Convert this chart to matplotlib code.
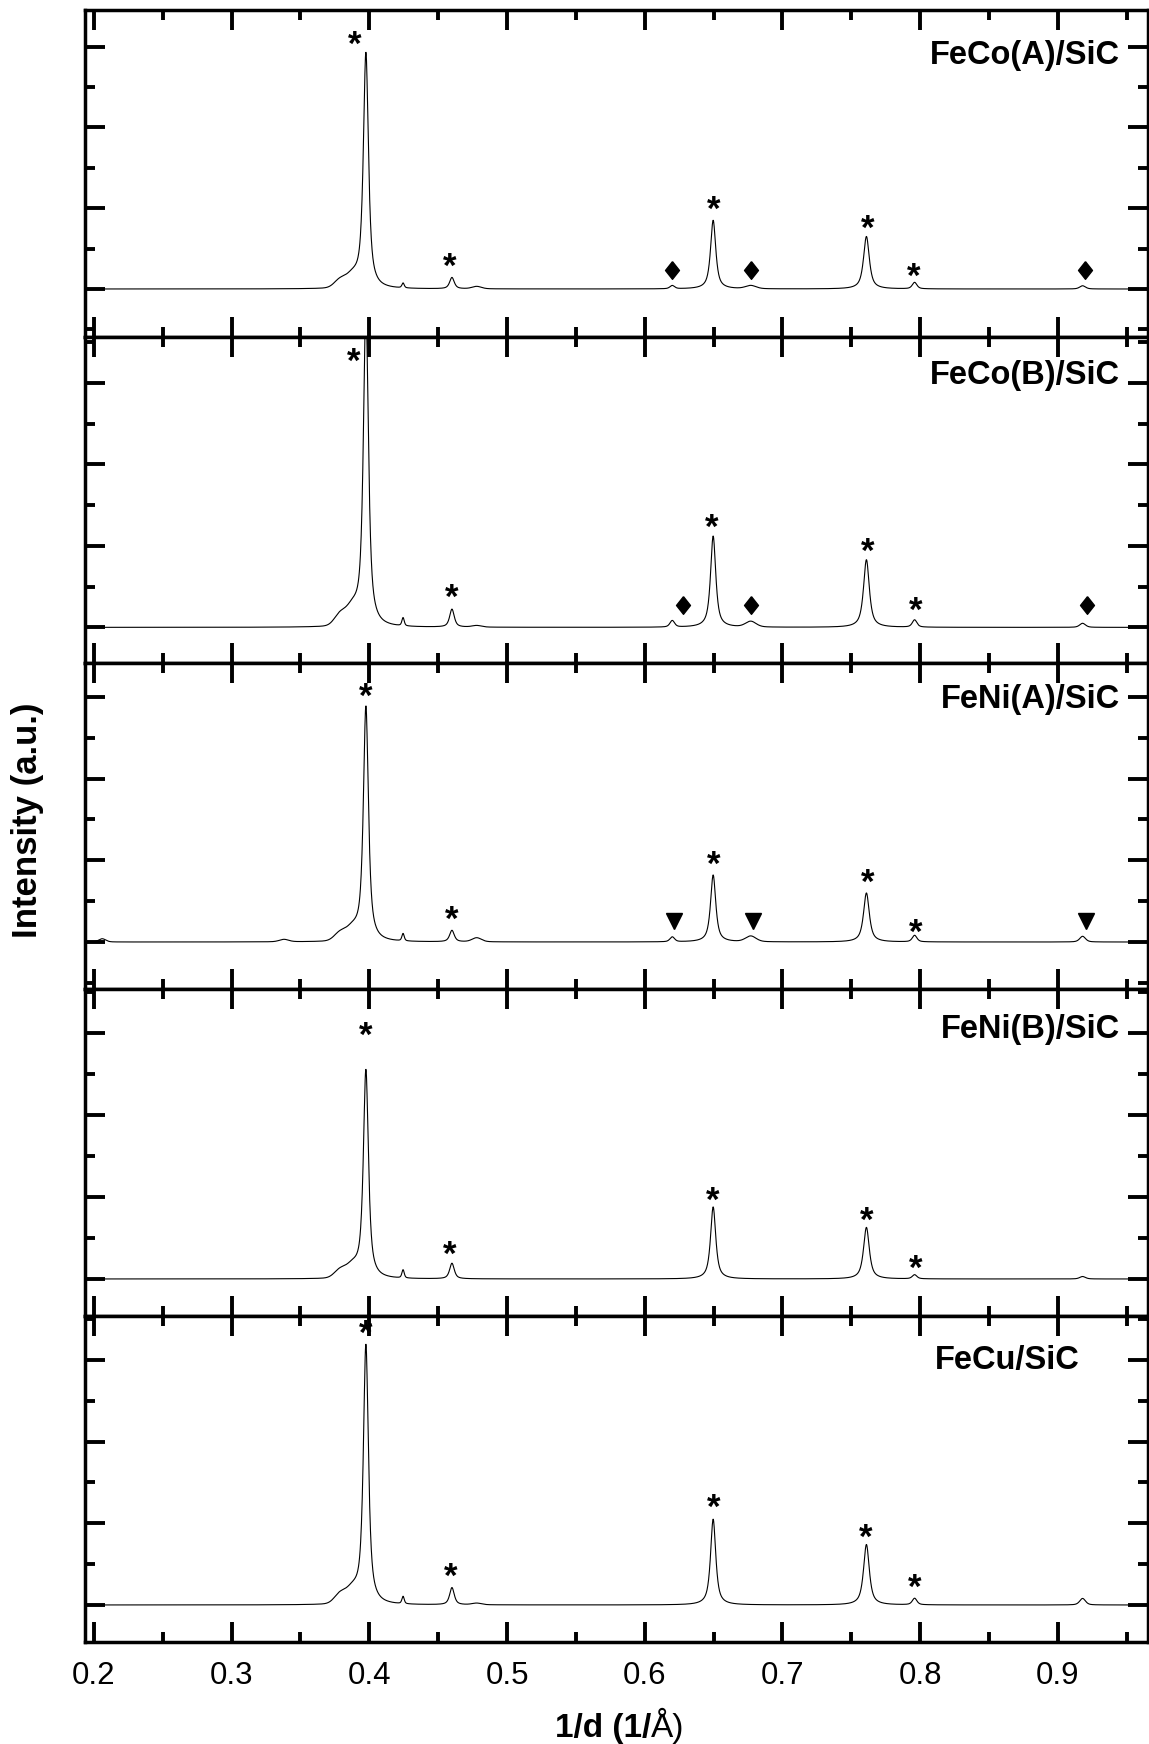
import matplotlib.pyplot as plt
import numpy as np
from matplotlib.ticker import MultipleLocator

plt.rcParams["font.family"] = ["Liberation Sans", "DejaVu Sans"]

# sample names, top panel to bottom panel
samples = ["FeCo(A)/SiC", "FeCo(B)/SiC", "FeNi(A)/SiC", "FeNi(B)/SiC", "FeCu/SiC"]

# reflections seen in the patterns (1/d in 1/Angstrom), their widths and shape mix
peak_pos = [0.206, 0.338, 0.379, 0.388, 0.3975, 0.4245, 0.46, 0.478,
            0.62, 0.6497, 0.677, 0.761, 0.796, 0.918]
peak_fwhm = [0.006, 0.008, 0.010, 0.010, 0.0044, 0.002, 0.004, 0.008,
             0.004, 0.0045, 0.009, 0.005, 0.004, 0.005]
peak_eta = [0.3, 0.3, 0.0, 0.0, 0.8, 0.5, 0.7, 0.3,
            0.5, 0.8, 0.3, 0.8, 0.6, 0.5]

# peak heights above background (major tick = 1 unit), one list per sample
h_feco_a = [0.0, 0.0, 0.10, 0.13, 2.92, 0.06, 0.14, 0.03, 0.04, 0.85, 0.04, 0.65, 0.08, 0.04]
h_feco_b = [0.0, 0.0, 0.14, 0.19, 3.90, 0.10, 0.22, 0.02, 0.08, 1.12, 0.07, 0.83, 0.09, 0.05]
h_feni_a = [0.04, 0.03, 0.10, 0.13, 2.88, 0.09, 0.14, 0.05, 0.06, 0.82, 0.07, 0.60, 0.08, 0.07]
h_feni_b = [0.0, 0.0, 0.10, 0.13, 2.55, 0.10, 0.19, 0.0, 0.0, 0.88, 0.0, 0.63, 0.05, 0.03]
h_fecu = [0.0, 0.0, 0.12, 0.15, 3.18, 0.09, 0.21, 0.02, 0.0, 1.05, 0.0, 0.74, 0.08, 0.08]
heights = [h_feco_a, h_feco_b, h_feni_a, h_feni_b, h_fecu]

# phase markers: (1/d, height) of the '*' labels
stars_feco_a = [(0.3896, 3.07), (0.4585, 0.32), (0.6500, 1.03), (0.762, 0.79), (0.7955, 0.20)]
stars_feco_b = [(0.3887, 3.31), (0.460, 0.41), (0.6485, 1.27), (0.762, 0.97), (0.7965, 0.25)]
stars_feni_a = [(0.397, 3.05), (0.4595, 0.32), (0.6500, 0.99), (0.762, 0.77), (0.7965, 0.16)]
stars_feni_b = [(0.397, 3.02), (0.4585, 0.34), (0.6495, 1.00), (0.7615, 0.76), (0.7965, 0.17)]
stars_fecu = [(0.3975, 3.36), (0.4592, 0.39), (0.6500, 1.24), (0.7605, 0.87), (0.7963, 0.26)]
stars = [stars_feco_a, stars_feco_b, stars_feni_a, stars_feni_b, stars_fecu]

# second phase markers (diamonds for FeCo, triangles for FeNi(A))
diamond_x_a = [0.6195, 0.6774, 0.9195]
diamond_x_b = [0.628, 0.6774, 0.9215]
triangle_x = [0.6209, 0.6789, 0.9205]
second_phase = [(diamond_x_a, 0.23, "dia"), (diamond_x_b, 0.27, "dia"),
                (triangle_x, 0.26, "tri"), None, None]

# layout (pixels of the 1149x1744 figure)
W, H = 1149, 1744
left_px, right_px = 85, 1148
panel_edges_px = [10, 337, 663, 989, 1316, 1642]
ylims = [(-0.594, 3.453), (-0.437, 3.563), (-0.575, 3.415), (-0.452, 3.541), (-0.453, 3.537)]
label_xy = [(0.974, 0.862), (0.974, 0.883), (0.974, 0.887), (0.974, 0.875), (0.936, 0.865)]
xlim = (0.1935, 0.9655)


def pseudo_voigt(x, x0, h, fwhm, eta):
    hw = fwhm / 2.0
    u = ((x - x0) / hw) ** 2
    return h * (eta / (1.0 + u) + (1.0 - eta) * np.exp(-np.log(2) * u))


diamond_path = [(0, 1), (0.79, 0), (0, -1), (-0.79, 0), (0, 1)]

fig = plt.figure(figsize=(W / 100, H / 100), dpi=100)
x = np.linspace(xlim[0], xlim[1], 4000)

for i, name in enumerate(samples):
    top, bot = panel_edges_px[i], panel_edges_px[i + 1]
    ax = fig.add_axes([left_px / W, 1 - bot / H, (right_px - left_px) / W, (bot - top) / H])

    y = np.zeros_like(x)
    for x0, h, w, eta in zip(peak_pos, heights[i], peak_fwhm, peak_eta):
        if h > 0:
            y += pseudo_voigt(x, x0, h, w, eta)
    ax.plot(x, y, color="black", lw=0.8)

    for sx, sy in stars[i]:
        ax.annotate("*", (sx, sy), xytext=(0, -10), textcoords="offset points",
                    ha="center", va="baseline", fontsize=25, fontweight="bold")

    if second_phase[i] is not None:
        xs, yv, kind = second_phase[i]
        if kind == "dia":
            ax.plot(xs, [yv] * len(xs), ls="none", marker=diamond_path, ms=12.7,
                    color="black")
        else:
            ax.plot(xs, [yv] * len(xs), ls="none", marker="v", ms=11.5, color="black")

    ax.text(label_xy[i][0], label_xy[i][1], name, transform=ax.transAxes,
            ha="right", va="center", fontsize=23.5, fontweight="bold")

    ax.set_xlim(xlim)
    ax.set_ylim(ylims[i])
    ax.xaxis.set_major_locator(MultipleLocator(0.1))
    ax.xaxis.set_minor_locator(MultipleLocator(0.05))
    ax.yaxis.set_major_locator(MultipleLocator(1))
    ax.yaxis.set_minor_locator(MultipleLocator(0.5))
    ax.tick_params(which="both", direction="in", top=True, right=True, width=2.8,
                   labelleft=False, labelbottom=(i == len(samples) - 1))
    ax.tick_params(which="major", length=14.4)
    ax.tick_params(which="minor", length=7.2)
    ax.tick_params(axis="x", labelsize=22.5, pad=14)
    for sp in ax.spines.values():
        sp.set_linewidth(2.5)

# axis titles
fig.text(651 / W, (H - 1737) / H, "1/d (1/", ha="right", va="baseline",
         fontsize=24, fontweight="bold")
fig.text(651 / W, (H - 1737) / H, "Å)", ha="left", va="baseline", fontsize=24)
fig.text(28 / W, 1 - 820 / H, "Intensity (a.u.)", rotation=90, ha="center",
         va="center", fontsize=25, fontweight="bold")

fig.savefig("out.png", dpi=100)
